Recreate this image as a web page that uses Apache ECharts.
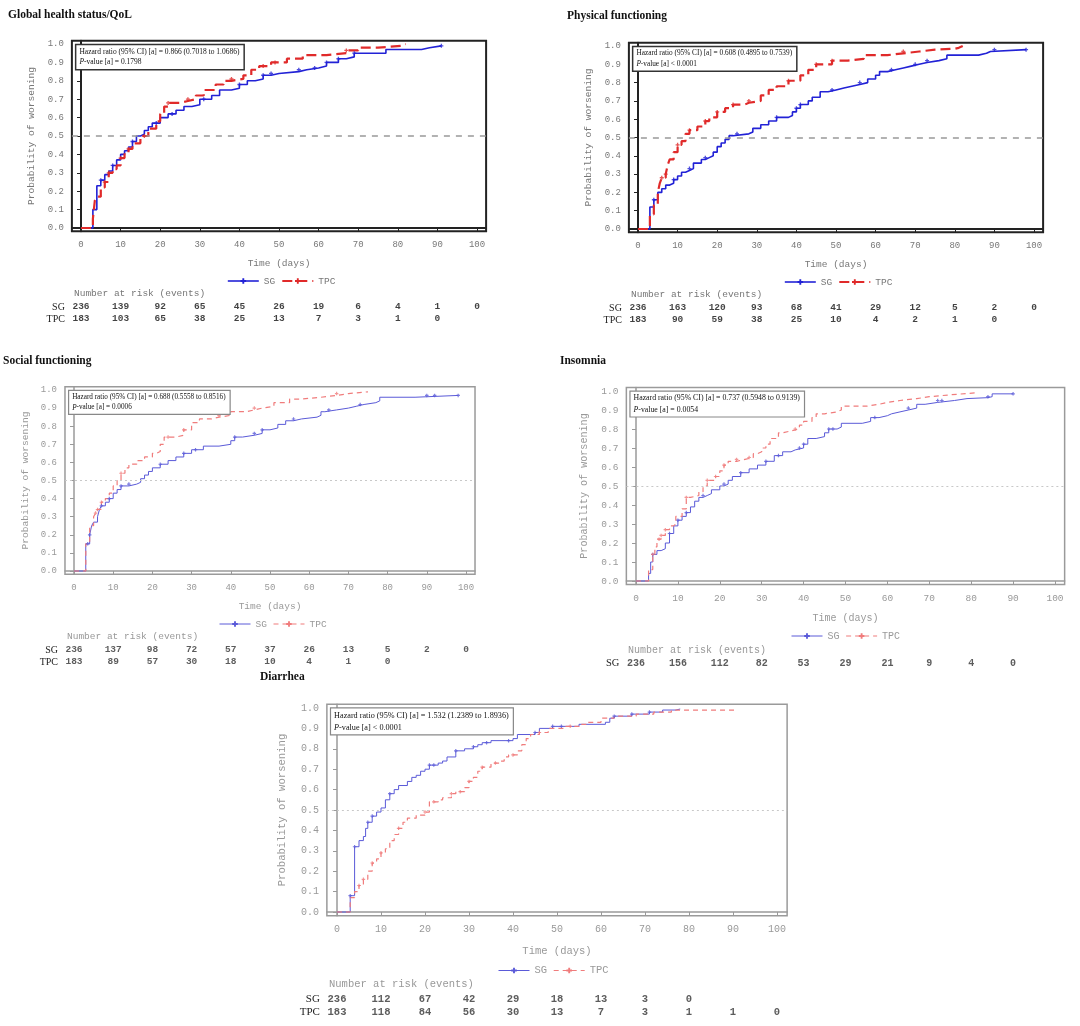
<!DOCTYPE html>
<html><head><meta charset="utf-8">
<script src="https://cdn.jsdelivr.net/npm/echarts@6/dist/echarts.min.js"></script>
<style>html,body{margin:0;padding:0;background:#fff}#c{width:1080px;height:1026px}</style>
</head><body><div id="c"></div>
<script>
// ---------- tick labels ----------
const xTicks = [0,10,20,30,40,50,60,70,80,90,100];
const yTicks = [0,0.1,0.2,0.3,0.4,0.5,0.6,0.7,0.8,0.9,1.0];
const riskTimes = [0,10,20,30,40,50,60,70,80,90,100];
const riskRowsTwo = ['SG','TPC'];
const riskRowsOne = ['SG'];

// ---------- Global health status/QoL ----------
const gh_SG = [[0,0],[3,0.10],[4,0.23],[5,0.26],[6,0.29],[7,0.31],[8,0.34],[9,0.37],[10,0.40],[11,0.42],[12,0.44],[13,0.47],[14,0.50],[15,0.51],[16,0.53],[17,0.55],[18,0.57],[20,0.60],[22,0.62],[24,0.64],[26,0.66],[28,0.67],[30,0.70],[33,0.72],[35,0.75],[38,0.76],[40,0.78],[42,0.80],[44,0.81],[46,0.83],[48,0.84],[50,0.85],[55,0.86],[57,0.87],[60,0.88],[62,0.90],[65,0.92],[67,0.93],[69,0.95],[77,0.97],[86,0.98],[88,0.99],[91,0.99]];
const gh_TPC = [[0,0],[3,0.05],[3.5,0.15],[4,0.17],[5,0.22],[6,0.25],[7,0.30],[8,0.32],[9,0.34],[10,0.38],[11,0.41],[12,0.43],[13,0.46],[15,0.50],[17,0.54],[19,0.58],[20,0.62],[21,0.66],[22,0.68],[25,0.69],[27,0.70],[29,0.72],[31,0.75],[34,0.78],[36,0.80],[38,0.81],[41,0.83],[43,0.86],[45,0.88],[48,0.90],[52,0.92],[56,0.94],[62,0.95],[67,0.965],[70,0.98],[75,0.99],[81,1.0],[82,1.0]];
const gh_SG_cens = [5,8,13,19,23,31,40,46,48,55,59,62,65,69,91];
const gh_TPC_cens = [6,7,10,12,16,22,27,38,46,49,67];
const gh_risk_SG = [236,139,92,65,45,26,19,6,4,1,0];
const gh_risk_TPC = [183,103,65,38,25,13,7,3,1,0];

// ---------- Physical functioning ----------
const pf_SG = [[0,0],[3,0.12],[4,0.16],[5,0.20],[6,0.22],[7,0.24],[8,0.25],[9,0.27],[10,0.29],[11,0.31],[12,0.32],[13,0.33],[14,0.36],[16,0.38],[17,0.39],[18,0.40],[19,0.42],[20,0.45],[21,0.47],[22,0.49],[23,0.51],[24,0.52],[28,0.53],[29,0.55],[31,0.57],[33,0.59],[35,0.61],[38,0.62],[39,0.64],[40,0.66],[41,0.68],[43,0.70],[44,0.72],[46,0.75],[48,0.76],[50,0.77],[52,0.78],[54,0.79],[56,0.80],[58,0.82],[60,0.84],[61,0.86],[63,0.87],[65,0.88],[67,0.89],[69,0.90],[71,0.91],[73,0.92],[76,0.93],[78,0.95],[86,0.96],[88,0.97],[89,0.98],[98,0.98]];
const pf_TPC = [[0,0],[3,0.08],[4,0.13],[5,0.20],[5.5,0.25],[6,0.28],[7,0.30],[7.5,0.35],[8,0.38],[9,0.42],[10,0.46],[11,0.48],[12,0.52],[13,0.54],[15,0.56],[17,0.59],[18,0.61],[20,0.64],[22,0.66],[24,0.68],[27,0.69],[28,0.70],[31,0.73],[33,0.76],[35,0.78],[38,0.81],[41,0.84],[43,0.87],[45,0.90],[49,0.92],[53,0.93],[57,0.95],[63,0.96],[67,0.97],[71,0.98],[75,0.985],[80,0.99],[81,1.0],[82,1.0]];
const pf_SG_cens = [4,9,13,17,25,35,40,41,49,56,64,70,73,90,98];
const pf_TPC_cens = [6,7,10,13,17,20,24,28,38,45,49,67];
const pf_risk_SG = [236,163,120,93,68,41,29,12,5,2,0];
const pf_risk_TPC = [183,90,59,38,25,10,4,2,1,0];

// ---------- Social functioning ----------
const sf_SG = [[0,0],[3,0.15],[4,0.20],[4.5,0.25],[5,0.27],[6,0.30],[6.5,0.34],[7,0.36],[8,0.38],[9,0.40],[10,0.43],[11,0.45],[12,0.47],[14,0.48],[16,0.49],[17,0.51],[18,0.53],[19,0.55],[20,0.57],[22,0.59],[24,0.61],[26,0.63],[28,0.65],[30,0.67],[33,0.69],[37,0.70],[40,0.72],[41,0.74],[43,0.75],[46,0.76],[48,0.78],[50,0.79],[52,0.81],[54,0.83],[56,0.84],[58,0.85],[62,0.86],[63,0.88],[64,0.89],[67,0.90],[70,0.91],[72,0.92],[74,0.93],[77,0.94],[78,0.96],[87,0.97],[98,0.97]];
const sf_TPC = [[0,0],[3,0.15],[4,0.25],[5,0.30],[5.5,0.32],[6,0.34],[7,0.38],[8,0.40],[9,0.43],[10,0.47],[11,0.50],[12,0.54],[13,0.57],[14,0.59],[16,0.61],[18,0.63],[20,0.65],[21,0.66],[22,0.70],[23,0.74],[26,0.75],[28,0.78],[30,0.82],[32,0.84],[35,0.85],[37,0.86],[40,0.88],[44,0.89],[46,0.90],[48,0.91],[51,0.93],[55,0.95],[58,0.96],[63,0.97],[67,0.98],[70,0.99],[75,0.99]];
const sf_SG_cens = [3.5,4,7,9,12,14,22,28,31,41,46,48,56,65,73,90,92,98];
const sf_TPC_cens = [5.5,6,7,12,24,28,37,46,67];
const sf_risk_SG = [236,137,98,72,57,37,26,13,5,2,0];
const sf_risk_TPC = [183,89,57,30,18,10,4,1,0];

// ---------- Insomnia ----------
const in_SG = [[0,0],[3,0.04],[3.5,0.10],[4,0.14],[5,0.16],[6,0.17],[7,0.20],[8,0.25],[9,0.29],[10,0.32],[11,0.34],[12,0.36],[13,0.39],[14,0.42],[15,0.44],[16,0.45],[17,0.46],[18,0.48],[20,0.50],[21,0.51],[22,0.53],[23,0.55],[25,0.57],[27,0.59],[29,0.61],[31,0.63],[33,0.66],[35,0.68],[37,0.69],[38,0.70],[40,0.72],[41,0.75],[43,0.76],[45,0.78],[46,0.80],[48,0.81],[49,0.83],[54,0.84],[56,0.86],[58,0.87],[60,0.88],[61,0.89],[63,0.90],[65,0.91],[67,0.93],[69,0.94],[72,0.95],[76,0.96],[79,0.965],[84,0.97],[85,0.985],[90,0.985]];
const in_TPC = [[0,0],[3,0.06],[4,0.14],[4.5,0.18],[5,0.22],[6,0.24],[7,0.27],[8,0.29],[9,0.30],[9.5,0.34],[11,0.38],[12,0.44],[13,0.45],[15,0.47],[16,0.50],[17,0.53],[19,0.55],[20,0.58],[21,0.61],[22,0.63],[24,0.64],[26,0.65],[28,0.67],[29,0.68],[30,0.70],[31,0.72],[32,0.75],[34,0.78],[35,0.79],[37,0.80],[39,0.82],[40,0.84],[42,0.86],[43,0.88],[45,0.89],[48,0.90],[49,0.92],[55,0.93],[58,0.94],[60,0.95],[63,0.96],[67,0.97],[70,0.98],[75,0.99],[81,1.0],[81.5,1.0]];
const in_SG_cens = [4,8,10,12,16,21,25,31,34,39,40,46,47,57,65,72,73,84,90];
const in_TPC_cens = [4,5.5,6,7,12,17,19,21,24,27,38];
const in_risk_SG = [236,156,112,82,53,29,21,9,4,0];

// ---------- Diarrhea ----------
const di_SG = [[0,0],[3,0.08],[4,0.32],[5,0.35],[6,0.37],[6.5,0.41],[7,0.44],[8,0.47],[9,0.49],[10,0.51],[11,0.55],[12,0.58],[13,0.60],[14,0.62],[16,0.64],[17,0.66],[18,0.67],[19,0.69],[20,0.70],[21,0.72],[23,0.73],[24,0.74],[25,0.76],[27,0.79],[29,0.80],[31,0.81],[32,0.82],[33,0.83],[35,0.84],[40,0.85],[41,0.87],[45,0.88],[46,0.90],[49,0.91],[55,0.92],[61,0.93],[62,0.95],[63,0.96],[67,0.97],[71,0.98],[74,0.99],[77,0.995],[78,0.995]];
const di_TPC = [[0,0],[3,0.07],[4,0.10],[5,0.13],[6,0.16],[7,0.20],[8,0.24],[9,0.26],[10,0.29],[11,0.31],[12,0.35],[13,0.38],[14,0.41],[15,0.44],[16,0.46],[18,0.475],[20,0.49],[21,0.54],[23,0.55],[24,0.56],[26,0.58],[27,0.59],[29,0.61],[30,0.64],[31,0.66],[32,0.69],[33,0.71],[35,0.73],[37,0.74],[38,0.76],[39,0.77],[41,0.79],[42,0.82],[43,0.85],[44,0.87],[46,0.88],[48,0.90],[52,0.91],[55,0.92],[57,0.93],[60,0.95],[63,0.96],[68,0.97],[72,0.98],[76,0.99],[91,0.99]];
const di_SG_cens = [3,4,7,8,12,21,22,27,31,34,39,45,49,51,63,67,71];
const di_TPC_cens = [5,6,8,10,14,20,22,26,28,30,33,36,40,46,53];
const di_risk_SG = [236,112,67,42,29,18,13,3,0];
const di_risk_TPC = [183,118,84,56,30,13,7,3,1,1,0];

// ---------- annotation texts ----------
const titles = ['Global health status/QoL','Physical functioning','Social functioning','Insomnia','Diarrhea'];
const hrTexts = [
  'Hazard ratio (95% CI) [a] = 0.866 (0.7018 to 1.0686)',
  'Hazard ratio (95% CI) [a] = 0.608 (0.4895 to 0.7539)',
  'Hazard ratio (95% CI) [a] = 0.688 (0.5558 to 0.8516)',
  'Hazard ratio (95% CI) [a] = 0.737 (0.5948 to 0.9139)',
  'Hazard ratio (95% CI) [a] = 1.532 (1.2389 to 1.8936)'
];
const pTexts = ['-value [a] = 0.1798','-value [a] < 0.0001','-value [a] = 0.0006','-value [a] = 0.0054','-value [a] < 0.0001'];

const MONO = '"Liberation Mono","DejaVu Sans Mono",monospace';
const SERIF = '"Liberation Serif","DejaVu Serif",serif';
const PLUS = 'path://M2,0H4V2H6V4H4V6H2V4H0V2H2Z';

const darkStyle = {sg:'#2222d6', tpc:'#e02a2a', sgW:1.6, tpcW:2.2, tpcDash:[10,5], box:'#222', boxW:2, lab:'#777', ref:'#999', refDash:[6,6], refW:1.5, num:'#111', cs:4};
const lightStyle = {sg:'#5a5ad8', tpc:'#f07c7c', sgW:1, tpcW:1.2, tpcDash:[5,4], box:'#9a9a9a', boxW:1.5, lab:'#999', ref:'#c8c8c8', refDash:[2,3], refW:1, num:'#333', cs:3.5};

const panels = [
  {title:0, tx:8, ty:9, x0:81, x100:477, y0:228, y1:44, sg:gh_SG, tpc:gh_TPC, sgC:gh_SG_cens, tpcC:gh_TPC_cens, rSG:gh_risk_SG, rTPC:gh_risk_TPC, rows:riskRowsTwo, rowY:307, rowH:12, narX:74, narY:294, legX:227, legY:282, st:darkStyle, fs:9, hrFs:7.5},
  {title:1, tx:567, ty:10, x0:638, x100:1034, y0:229, y1:46, sg:pf_SG, tpc:pf_TPC, sgC:pf_SG_cens, tpcC:pf_TPC_cens, rSG:pf_risk_SG, rTPC:pf_risk_TPC, rows:riskRowsTwo, rowY:308, rowH:12, narX:631, narY:295, legX:784, legY:283, st:darkStyle, fs:9, hrFs:7.3},
  {title:2, tx:3, ty:355, x0:74, x100:466, y0:571, y1:390, sg:sf_SG, tpc:sf_TPC, sgC:sf_SG_cens, tpcC:sf_TPC_cens, rSG:sf_risk_SG, rTPC:sf_risk_TPC, rows:riskRowsTwo, rowY:650, rowH:12, narX:67, narY:637, legX:219, legY:625, st:lightStyle, fs:9, hrFs:7.2},
  {title:3, tx:560, ty:355, x0:636, x100:1055, y0:581, y1:391, sg:in_SG, tpc:in_TPC, sgC:in_SG_cens, tpcC:in_TPC_cens, rSG:in_risk_SG, rTPC:null, rows:riskRowsOne, rowY:663, rowH:12, narX:628, narY:651, legX:791, legY:637, st:lightStyle, fs:9.5, hrFs:7.8},
  {title:4, tx:260, ty:671, x0:337, x100:777, y0:912, y1:708, sg:di_SG, tpc:di_TPC, sgC:di_SG_cens, tpcC:di_TPC_cens, rSG:di_risk_SG, rTPC:di_risk_TPC, rows:riskRowsTwo, rowY:999, rowH:13, narX:329, narY:985, legX:498, legY:971, st:lightStyle, fs:10, hrFs:8.2}
];

function stepAt(arr, t){ let v = 0; for (const p of arr) { if (p[0] <= t) v = p[1]; } return v; }

const XMIN = -2.3, XMAX = 102.3, YMIN = -0.018, YMAX = 1.018;
const option = {animation:false, backgroundColor:'#fff', grid:[], xAxis:[], yAxis:[], series:[], legend:[], graphic:[]};

panels.forEach((p, i) => {
  const st = p.st;
  const sx = (p.x100 - p.x0) / 100, sy = (p.y0 - p.y1);
  const gl = p.x0 + XMIN * sx, gw = (XMAX - XMIN) * sx;
  const gt = p.y1 - (YMAX - 1) * sy, gh = (YMAX - YMIN) * sy;
  const gi = i * 2, ti = i * 2 + 1;
  option.grid.push({left:gl, top:gt, width:gw, height:gh, show:true, borderColor:st.box, borderWidth:st.boxW, backgroundColor:'#fff'});
  option.grid.push({left:gl, top:p.rowY - p.rowH/2, width:gw, height:p.rowH * p.rows.length});
  option.xAxis.push({gridIndex:gi, type:'value', min:XMIN, max:XMAX,
    name:'Time (days)', nameLocation:'middle', nameGap:27*p.fs/9,
    nameTextStyle:{fontFamily:MONO, fontSize:p.fs+0.5, color:st.lab},
    axisLine:{show:true, lineStyle:{color:st.box, width:st.boxW}},
    axisTick:{show:true, customValues:xTicks, length:4, lineStyle:{color:st.box, width:1}},
    axisLabel:{customValues:xTicks, margin:9, fontFamily:MONO, fontSize:p.fs, color:st.lab},
    splitLine:{show:false}});
  option.xAxis.push({gridIndex:ti, type:'value', min:XMIN, max:XMAX, show:false});
  option.yAxis.push({gridIndex:gi, type:'value', min:YMIN, max:YMAX,
    name:'Probability of worsening', nameLocation:'middle', nameGap:35*p.fs/9,
    nameTextStyle:{fontFamily:MONO, fontSize:p.fs+0.6, color:st.lab},
    axisLine:{show:true, lineStyle:{color:st.box, width:st.boxW}},
    axisTick:{show:true, customValues:yTicks, length:4, lineStyle:{color:st.box, width:1}},
    axisLabel:{customValues:yTicks, margin:8, fontFamily:MONO, fontSize:p.fs, color:st.lab, formatter:v => Number(v).toFixed(1)},
    splitLine:{show:false}});
  option.yAxis.push({gridIndex:ti, type:'category', data:p.rows, inverse:true,
    axisLine:{show:false}, axisTick:{show:false},
    axisLabel:{interval:0, margin:7, fontFamily:SERIF, fontSize:p.fs+1, color:'#222'}});

  // curves
  option.series.push({type:'line', name:'SG', xAxisIndex:gi, yAxisIndex:gi, data:p.sg, step:'end',
    showSymbol:false, symbol:PLUS, symbolSize:6, itemStyle:{color:st.sg},
    lineStyle:{color:st.sg, width:st.sgW}, z:3,
    markLine:{silent:true, symbol:'none', label:{show:false},
      lineStyle:{color:st.ref, type:st.refDash, width:st.refW}, data:[{yAxis:0.5}]}});
  option.series.push({type:'line', name:'TPC', xAxisIndex:gi, yAxisIndex:gi, data:p.tpc, step:'end',
    showSymbol:false, symbol:PLUS, symbolSize:6, itemStyle:{color:st.tpc},
    lineStyle:{color:st.tpc, width:st.tpcW, type:st.tpcDash}, z:4});
  option.series.push({type:'scatter', name:'SG censored', xAxisIndex:gi, yAxisIndex:gi, silent:true,
    data:p.sgC.map(t => [t, stepAt(p.sg, t)]), symbol:PLUS, symbolSize:st.cs, itemStyle:{color:st.sg}, z:5});
  option.series.push({type:'scatter', name:'TPC censored', xAxisIndex:gi, yAxisIndex:gi, silent:true,
    data:p.tpcC.map(t => [t, stepAt(p.tpc, t)]), symbol:PLUS, symbolSize:st.cs, itemStyle:{color:st.tpc}, z:5});

  // number at risk
  const riskData = p.rSG.map((n, k) => [riskTimes[k], 'SG', n]);
  if (p.rTPC) p.rTPC.forEach((n, k) => riskData.push([riskTimes[k], 'TPC', n]));
  option.series.push({type:'scatter', name:'risk', xAxisIndex:ti, yAxisIndex:ti, silent:true,
    data:riskData, symbol:'rect', symbolSize:1, itemStyle:{color:'rgba(0,0,0,0)'},
    label:{show:true, position:'inside', formatter:q => String(q.value[2]),
      fontFamily:MONO, fontWeight:'bold', fontSize:p.fs+0.5, color:st.num}});

  // legend
  option.legend.push({left:p.legX, top:p.legY - 6, padding:0, itemWidth:31, itemHeight:7, itemGap:6, selectedMode:false,
    textStyle:{fontFamily:MONO, fontSize:p.fs+0.5, color:st.lab},
    data:[
      {name:'SG', itemStyle:{color:st.sg}, lineStyle:{color:st.sg, width:st.sgW, type:'solid'}},
      {name:'TPC', itemStyle:{color:st.tpc}, lineStyle:{color:st.tpc, width:st.tpcW, type:st.tpcDash}}
    ]});

  // title
  option.graphic.push({type:'text', left:p.tx, top:p.ty, silent:true,
    style:{text:titles[p.title], font:'bold 11.5px ' + SERIF, fill:'#111'}});
  // number at risk heading
  option.graphic.push({type:'text', left:p.narX, top:p.narY - 6, silent:true,
    style:{text:'Number at risk (events)', font:(p.fs+0.5) + 'px ' + MONO, fill:st.lab}});
  // HR box
  option.graphic.push({type:'text', left:gl + 3, top:gt + 3, z:10, silent:true,
    style:{text:'{n|' + hrTexts[i] + '}\n{i|P}{n|' + pTexts[i] + '}',
      rich:{n:{fontFamily:SERIF, fontSize:p.hrFs, fill:'#111', lineHeight:p.hrFs*1.45},
            i:{fontFamily:SERIF, fontSize:p.hrFs, fontStyle:'italic', fill:'#111', lineHeight:p.hrFs*1.45}},
      backgroundColor:'#fff', borderColor: i < 2 ? '#333' : '#888', borderWidth: i < 2 ? 1.5 : 1.2,
      padding:[1,4,1,3]}});
});

const chart = echarts.init(document.getElementById('c'), null, {renderer:'canvas'});
chart.setOption(option);
</script>
</body></html>
